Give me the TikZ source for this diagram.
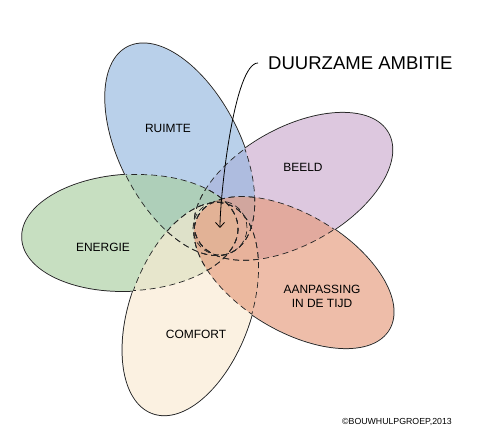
\documentclass[tikz,border=0pt]{standalone}
\usepackage{fontspec}
\setmainfont{Liberation Sans}
\usetikzlibrary{calc,arrows.meta}
\definecolor{beeldpurple}{RGB}{203,172,207}
\definecolor{ruimteblue}{RGB}{149,183,223}
\definecolor{energiegreen}{RGB}{169,207,160}
\definecolor{comfortcream}{RGB}{249,235,210}
\definecolor{tijdorange}{RGB}{229,155,124}
% one petal: angle, distance from the heart, radii
\newcommand\petal[4]{($(C)+(#1:#2)$) circle [x radius=#3bp, y radius=#4bp, rotate=#1]}
\newcommand\petals{29.5/84/109/58, 117/88/115/60, 183/90/108/58, 250/86/111/60, -31/86/111/58}

\begin{document}
\begin{tikzpicture}[x=1bp, y=1bp,
  rim/.style={draw=black!85, line width=2bp},
  seam/.style={draw=black!85, line width=0.7bp, dash pattern=on 6bp off 4bp},
  leaf/.style={fill opacity=.65},
  word/.style={font=\fontsize{12}{14}\selectfont, align=center}]
	\useasboundingbox (0,0) rectangle (479,446);
	\coordinate (C) at (220,218);
	% outer edge
	\foreach \a/\d/\rx/\ry in \petals
	  \draw[rim] \petal{\a}{\d}{\rx}{\ry};
	\foreach \a/\d/\rx/\ry in \petals
	  \fill[white] \petal{\a}{\d}{\rx}{\ry};
	% petals
	\fill[leaf, fill=beeldpurple] \petal{29.5}{84}{109}{58};
	\fill[leaf, fill=ruimteblue] \petal{117}{88}{115}{60};
	\fill[leaf, fill=energiegreen] \petal{183}{90}{108}{58};
	\fill[leaf, fill=comfortcream] \petal{250}{86}{111}{60};
	\fill[leaf, fill=tijdorange] \petal{-31}{86}{111}{58};
	% dashed where one petal lies over another
	\foreach \a/\d/\rx/\ry in \petals {
	  \foreach \b/\e/\sx/\sy in \petals {
	    \ifdim\a pt=\b pt\else
	    \begin{scope}
	      \clip \petal{\b}{\e}{\sx}{\sy};
	      \draw[seam] \petal{\a}{\d}{\rx}{\ry};
	    \end{scope}
	    \fi
	  }
	}
	\node[seam, circle, minimum size=54bp] (core) at (C) {};
	% labels
	\node[word] (ruimte) at (168,318) {RUIMTE};
	\node[word] (beeld) at (303,279) {BEELD};
	\node[word] (energie) at (103,199) {ENERGIE};
	\node[word] (tijd) at (322,150) {AANPASSING\\IN DE TIJD};
	\node[word] (comfort) at (196,112) {COMFORT};
	\node[font=\fontsize{18.6}{20}\selectfont, anchor=west, inner sep=0pt] (title) at (268,383) {DUURZAME AMBITIE};
	\node[font=\fontsize{8.8}{10}\selectfont] (credit) at (397,24) {©BOUWHULPGROEP,2013};
	\draw[-{Straight Barb[length=5bp,width=9bp]}, line width=0.8bp, shorten <=10bp]
	  (title.west) to[out=180, in=90, looseness=0.5] (core.center);
\end{tikzpicture}
\end{document}
